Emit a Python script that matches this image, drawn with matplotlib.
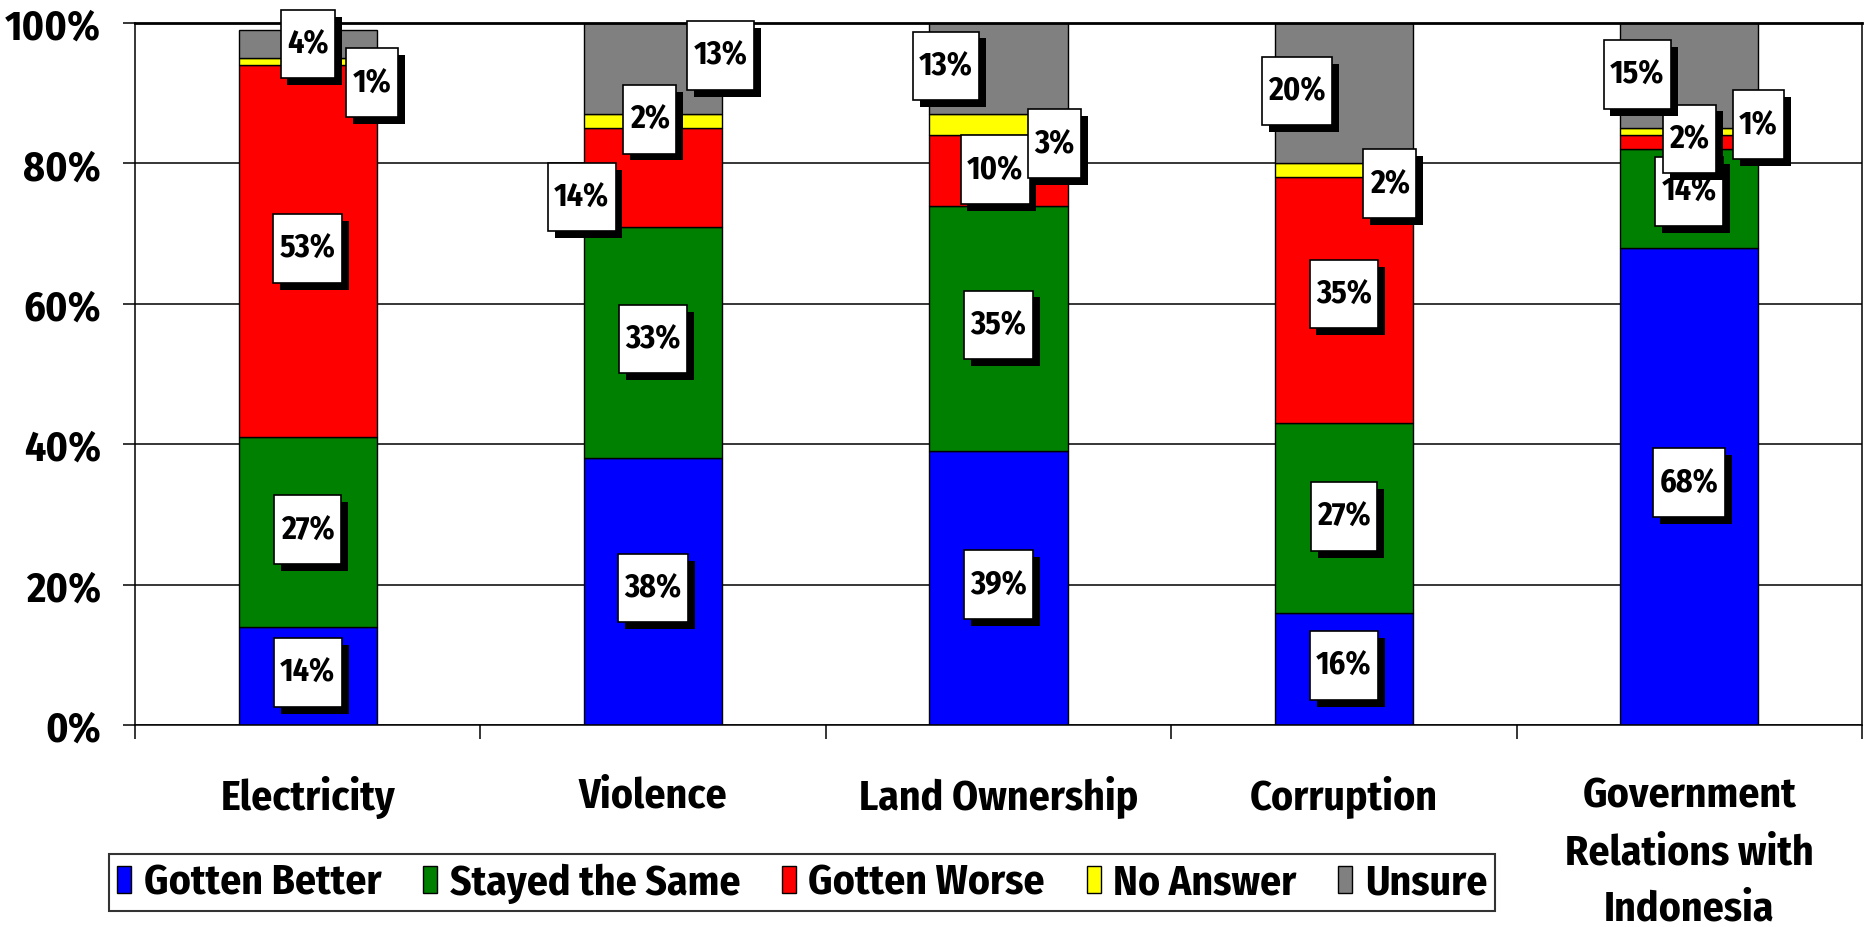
import matplotlib
matplotlib.use('Agg')
import matplotlib.pyplot as plt
import matplotlib.patheffects as pe
from matplotlib.path import Path
import numpy as np

plt.rcParams['font.family'] = ['Fira Sans Condensed', 'IBM Plex Sans Condensed', 'Liberation Sans', 'DejaVu Sans']
plt.rcParams['font.weight'] = 'bold'

categories = ['Electricity', 'Violence', 'Land Ownership', 'Corruption',
              'Government\nRelations with\nIndonesia']
series_names = ['Gotten Better', 'Stayed the Same', 'Gotten Worse', 'No Answer', 'Unsure']
gotten_better = [14, 38, 39, 16, 68]
stayed_same = [27, 33, 35, 27, 14]
gotten_worse = [53, 14, 10, 35, 2]
no_answer = [1, 2, 3, 2, 1]
unsure = [4, 13, 13, 20, 15]
colors = ['#0000FF', '#008000', '#FF0000', '#FFFF00', '#808080']

# label nudges from segment centre (x in category units, y in percent)
label_dx = [[0, 0, 0, 0, 0],
            [0, 0, 0, 0, 0],
            [0, -0.207, -0.01, 0, 0],
            [0.186, -0.01, 0.161, 0.133, 0.2],
            [0, 0.195, -0.152, -0.135, -0.151]]
label_dy = [[0.5, 0.5, 0.5, 0.5, 0.5],
            [0.3, 0.5, 0.5, 0.2, 1.0],
            [0.4, -2.8, 0.1, 0.9, 0.5],
            [-3.0, 0.3, -2.7, -1.9, 1.0],
            [0, 1.9, 0.4, 0.3, 0.2]]


def label_box(x0, y0, width, height, mutation_size):
  # narrow but tall white box, like the Excel data labels
  padx = 0.2 * mutation_size
  h = 2.15 * mutation_size
  cy = y0 + height / 2
  verts = [(x0 - padx, cy - h / 2), (x0 + width + padx, cy - h / 2),
           (x0 + width + padx, cy + h / 2), (x0 - padx, cy + h / 2),
           (x0 - padx, cy - h / 2)]
  return Path(verts, closed=True)


fig = plt.figure(figsize=(18.67, 9.28), dpi=100)
ax = fig.add_axes([0.0723, 0.2177, 0.925, 0.7564])

x = np.arange(len(categories))
data = [gotten_better, stayed_same, gotten_worse, no_answer, unsure]
bottom = np.zeros(len(categories))
bars = []
for i, vals in enumerate(data):
  ax.bar(x, vals, 0.4, bottom=bottom, color=colors[i], edgecolor='black',
         linewidth=1.0, label=series_names[i], zorder=2)
  bars.append((vals, bottom.copy()))
  bottom += np.array(vals)

for i, (vals, bot) in enumerate(bars):
  for j, v in enumerate(vals):
    cx = x[j] + label_dx[i][j]
    cy = bot[j] + v / 2 + label_dy[i][j]
    t = ax.text(cx, cy, f'{v}%', ha='center', va='center', fontsize=23,
                fontweight='bold', zorder=5,
                bbox=dict(boxstyle=label_box, facecolor='white',
                          edgecolor='black', linewidth=1.2))
    t.get_bbox_patch().set_path_effects([
        pe.SimplePatchShadow(offset=(5, -5), shadow_rgbFace='black', alpha=1),
        pe.Normal()])

ax.set_xlim(-0.5, len(categories) - 0.5)
ax.set_ylim(0, 100)
ax.set_yticks(np.arange(0, 101, 20))
ax.set_yticklabels([f'{v}%' for v in range(0, 101, 20)])
ax.set_xticks(x)
ax.set_xticklabels(categories, linespacing=1.5)
ax.set_xticks(np.arange(-0.5, len(categories), 1), minor=True)

ax.yaxis.grid(True, color='black', linewidth=1.1)
ax.set_axisbelow(True)
for s in ax.spines.values():
  s.set_color('black')
  s.set_linewidth(1.1)
ax.spines['top'].set_linewidth(2.0)

ax.tick_params(axis='y', length=8.6, width=1.1, pad=16, labelsize=30, color='black')
ax.tick_params(axis='x', which='major', length=0, pad=36, labelsize=30)
ax.tick_params(axis='x', which='minor', length=10, width=1.1, direction='out')
for lab in ax.get_xticklabels() + ax.get_yticklabels():
  lab.set_fontweight('bold')

leg = fig.legend(loc='center', bbox_to_anchor=(0.4296, 0.048), ncol=5,
                 fontsize=30, frameon=True, fancybox=False, edgecolor='black',
                 handlelength=0.34, handleheight=0.62, handletextpad=0.3,
                 columnspacing=1.0, borderpad=0.2, borderaxespad=0)
leg.get_frame().set_linewidth(1.5)
for txt in leg.get_texts():
  txt.set_fontweight('bold')

fig.savefig('out.png', dpi=100, facecolor='white')
